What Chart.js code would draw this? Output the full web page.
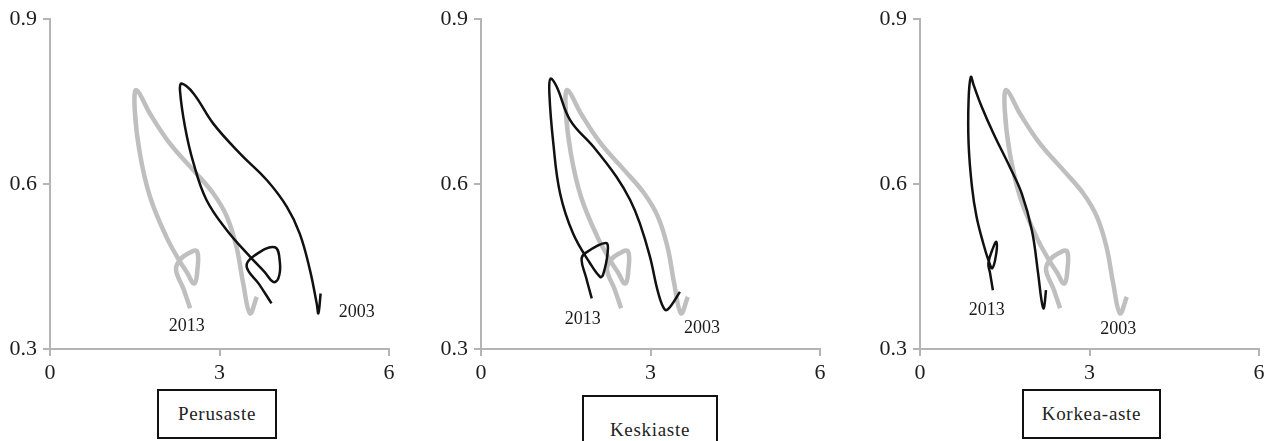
<!DOCTYPE html>
<html>
<head>
<meta charset="utf-8">
<script src="https://cdn.jsdelivr.net/npm/chart.js@4/dist/chart.umd.min.js"></script>
<style>
  html, body { margin: 0; padding: 0; background: #fff; width: 1271px; height: 441px; overflow: hidden; }
  canvas { position: absolute; top: 0; }
  .caption {
    position: absolute; box-sizing: border-box; border: 2px solid #111; background: #fff;
    display: flex; align-items: center; justify-content: center;
    font-family: 'Liberation Serif', serif; font-size: 19px; letter-spacing: 0.7px; color: #222;
  }
</style>
</head>
<body>
<canvas id="c1" width="410" height="441" style="left:0px"></canvas>
<canvas id="c2" width="410" height="441" style="left:431px"></canvas>
<canvas id="c3" width="401" height="441" style="left:870px"></canvas>

<div class="caption" style="left:157px; top:389px; width:120px; height:50px;">Perusaste</div>
<div class="caption" style="left:582px; top:395px; width:136px; height:70px;">Keskiaste</div>
<div class="caption" style="left:1022px; top:389px; width:139px; height:50px;">Korkea-aste</div>

<script>
// Panel titles
const panelTitles = ['Perusaste', 'Keskiaste', 'Korkea-aste'];

// Axis ticks
const xTicks = [0, 3, 6];
const yTicks = [0.3, 0.6, 0.9];

// Grey reference path (same in every panel)
const greyX = [2.48, 2.36, 2.23, 2.30, 2.45, 2.60, 2.61, 2.55, 2.42, 2.30, 2.06, 1.77, 1.59, 1.50, 1.53,
               1.77, 2.12, 2.54, 2.89, 3.13, 3.30, 3.42, 3.54, 3.66];
const greyY = [0.374, 0.410, 0.444, 0.462, 0.474, 0.478, 0.445, 0.419, 0.440, 0.459, 0.504, 0.577, 0.656, 0.735, 0.771,
               0.728, 0.674, 0.625, 0.583, 0.541, 0.486, 0.419, 0.365, 0.395];

// Black paths, one per panel
const perusX = [3.92, 3.70, 3.48, 3.62, 3.98, 4.07, 4.04, 3.95, 3.80, 3.54, 3.13, 2.77, 2.54, 2.39, 2.30, 2.33,
                2.54, 2.89, 3.36, 3.84, 4.19, 4.42, 4.60, 4.72, 4.75, 4.79];
const perusY = [0.383, 0.418, 0.450, 0.470, 0.485, 0.456, 0.428, 0.422, 0.440, 0.468, 0.516, 0.571, 0.638, 0.704, 0.771, 0.783,
                0.765, 0.710, 0.656, 0.607, 0.559, 0.510, 0.444, 0.383, 0.365, 0.401];

const keskiX = [1.96, 1.86, 1.78, 1.84, 2.21, 2.24, 2.16, 2.11, 1.93, 1.63, 1.40, 1.28, 1.21, 1.23, 1.34,
                1.58, 1.99, 2.40, 2.64, 2.81, 2.99, 3.14, 3.26, 3.35, 3.52];
const keskiY = [0.392, 0.430, 0.462, 0.474, 0.493, 0.474, 0.435, 0.431, 0.456, 0.510, 0.583, 0.674, 0.765, 0.792, 0.777,
                0.716, 0.668, 0.613, 0.571, 0.529, 0.468, 0.401, 0.371, 0.377, 0.404];

const korkeaX = [1.29, 1.24, 1.21, 1.29, 1.35, 1.35, 1.28, 1.21, 1.12, 1.00, 0.92, 0.86, 0.86, 0.90, 0.95,
                 1.09, 1.30, 1.59, 1.80, 1.98, 2.09, 2.15, 2.19, 2.23];
const korkeaY = [0.407, 0.438, 0.456, 0.483, 0.495, 0.474, 0.447, 0.462, 0.492, 0.541, 0.595, 0.674, 0.753, 0.795, 0.780,
                 0.741, 0.692, 0.631, 0.583, 0.516, 0.438, 0.389, 0.374, 0.407];

// Year annotations: text and anchor value per panel
const yearText = ['2013', '2003'];
const yearAtX = [[2.42, 5.43], [1.80, 3.91], [1.18, 3.51]];
const yearAtY = [[0.342, 0.366], [0.355, 0.338], [0.370, 0.335]];

const AXIS = '#b4b4b4';
const SERIF = "'Liberation Serif', 'Times New Roman', serif";

function points(xs, ys) { return xs.map((x, i) => ({ x: x, y: ys[i] })); }

function axis(tickValues, min, max, isY) {
  return {
    type: 'linear', min: min, max: max,
    afterBuildTicks: s => { s.ticks = tickValues.map(v => ({ value: v })); },
    afterFit: s => { if (isY) s.width = 50; else s.height = 40; },
    grid: { display: true, drawOnChartArea: false, drawTicks: true, tickLength: 7, color: AXIS, lineWidth: 2 },
    border: { display: true, color: AXIS, width: 2 },
    ticks: {
      font: { family: SERIF, size: 22 }, color: '#1e1e1e', padding: isY ? 6 : 4,
      callback: v => isY ? Number(v).toFixed(1) : String(v)
    }
  };
}

function yearPlugin(idx) {
  return {
    id: 'yearLabels' + idx,
    afterDatasetsDraw(chart) {
      const { ctx, scales } = chart;
      ctx.save();
      ctx.font = "18px " + SERIF;
      ctx.fillStyle = '#1a1a1a';
      ctx.textAlign = 'center';
      ctx.textBaseline = 'middle';
      yearText.forEach((t, k) => {
        ctx.fillText(t, scales.x.getPixelForValue(yearAtX[idx][k]), scales.y.getPixelForValue(yearAtY[idx][k]));
      });
      ctx.restore();
    }
  };
}

const blackX = [perusX, keskiX, korkeaX];
const blackY = [perusY, keskiY, korkeaY];
const padRight = [21, 21, 12];

['c1', 'c2', 'c3'].forEach((id, i) => {
  new Chart(document.getElementById(id), {
    type: 'scatter',
    data: {
      datasets: [
        {
          label: panelTitles[i] + ' 2013',
          data: points(blackX[i], blackY[i]),
          showLine: true, borderColor: '#111', borderWidth: 2.5, tension: 0.4,
          pointRadius: 0, fill: false, order: 0
        },
        {
          label: panelTitles[i] + ' 2003',
          data: points(greyX, greyY),
          showLine: true, borderColor: '#bfbfbf', borderWidth: 4.5, tension: 0.4,
          pointRadius: 0, fill: false, order: 1
        }
      ]
    },
    options: {
      responsive: false,
      animation: false,
      layout: { padding: { top: 19, right: padRight[i], bottom: 52, left: 0 } },
      plugins: { legend: { display: false }, tooltip: { enabled: false }, title: { display: false } },
      scales: { x: axis(xTicks, 0, 6, false), y: axis(yTicks, 0.3, 0.9, true) }
    },
    plugins: [yearPlugin(i)]
  });
});
</script>
</body>
</html>
